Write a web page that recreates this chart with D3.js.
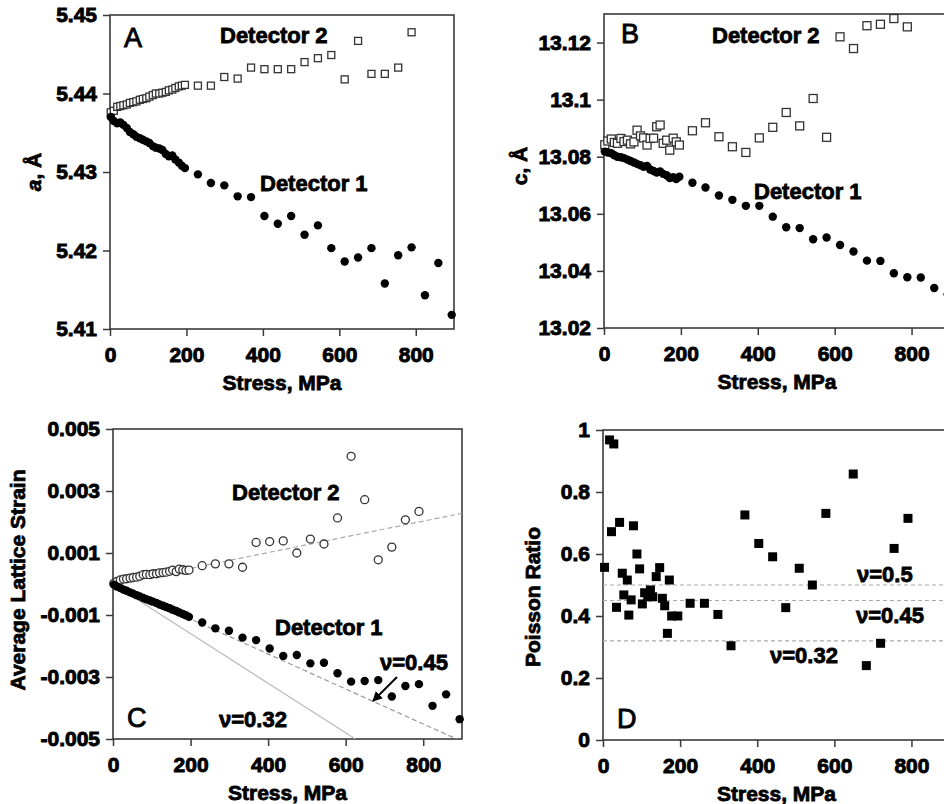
<!DOCTYPE html>
<html>
<head>
<meta charset="utf-8">
<script src="https://cdn.jsdelivr.net/npm/d3@7"></script>
<style>
  body { margin: 0; background: #fff; }
  text { font-family: "Liberation Sans", Arial, sans-serif; fill: #000; }
</style>
</head>
<body>
<svg id="fig" width="944" height="804"></svg>
<script>
////////////////////////////////////////////////////////////////////////
// Data

// applied stress (MPa), shared by panels A, B and C
let stress = [2, 10, 19, 27, 35, 44, 52, 61, 69, 78, 86, 95, 103, 112, 120, 129,
  137, 146, 154, 163, 171, 180, 188, 196, 230, 264, 299, 334, 369, 404, 439, 474,
  509, 544, 579, 614, 649, 684, 719, 754, 789, 824, 859, 894];

// panel A: lattice parameter a (Angstrom)
let aDet1 = [5.4370, 5.4365, 5.4362, 5.4363, 5.4360, 5.4356, 5.4351, 5.4348, 5.4345,
  5.4343, 5.4341, 5.4339, 5.4337, 5.4333, 5.4331, 5.4330, 5.4328, 5.4323, 5.4320,
  5.4321, 5.4316, 5.4312, 5.4308, 5.4305, 5.4297, 5.4286, 5.4283, 5.4269, 5.4268,
  5.4244, 5.4234, 5.4244, 5.4220, 5.4232, 5.4203, 5.4186, 5.4191, 5.4203, 5.4158,
  5.4194, 5.4204, 5.4143, 5.4184, 5.4118];
let aDet2 = [5.4376, 5.4378, 5.4383, 5.4384, 5.4385, 5.4386, 5.4388, 5.4389, 5.4390,
  5.4392, 5.4393, 5.4394, 5.4396, 5.4398, 5.4400, 5.4400, 5.4401, 5.4402, 5.4404,
  5.4405, 5.4407, 5.4409, 5.4410, 5.4411, 5.4410, 5.4410, 5.4421, 5.4419, 5.4433,
  5.4431, 5.4431, 5.4431, 5.4440, 5.4445, 5.4449, 5.4418, 5.4467, 5.4425, 5.4425,
  5.4433, 5.4478, null, null, null];

// panel B: lattice parameter c (Angstrom)
let cDet1 = [13.0818, 13.0815, 13.0812, 13.0805, 13.0800, 13.0798, 13.0795, 13.0790,
  13.0785, 13.0780, 13.0775, 13.0770, 13.0765, 13.0768, 13.0755, 13.0750, 13.0745,
  13.0748, 13.0740, 13.0735, 13.0725, 13.0728, 13.0722, 13.0730, 13.0709, 13.0692,
  13.0664, 13.0649, 13.0628, 13.0628, 13.0590, 13.0553, 13.0550, 13.0511, 13.0517,
  13.0491, 13.0468, 13.0436, 13.0435, 13.0392, 13.0378, 13.0377, 13.0340, 13.0318];
let cDet2 = [13.0842, 13.0855, 13.0862, 13.0850, 13.0847, 13.0864, 13.0853, 13.0858,
  13.0845, 13.0852, 13.0893, 13.0873, 13.0866, 13.0841, 13.0864, 13.0865, 13.0905,
  13.0911, 13.0847, 13.0858, 13.0823, 13.0865, 13.0852, 13.0841, 13.0891, 13.0919,
  13.0870, 13.0835, 13.0815, 13.0866, 13.0903, 13.0955, 13.0908, 13.1004, 13.0868,
  13.1220, 13.1179, 13.1259, 13.1264, 13.1284, 13.1255, null, null, null];

// panel C: average lattice strain
let strainDet1 = [-0.00002, -0.00008, -0.00013, -0.00018, -0.00022, -0.00027, -0.00031,
  -0.00036, -0.00040, -0.00045, -0.00049, -0.00053, -0.00057, -0.00061, -0.00066,
  -0.00070, -0.00074, -0.00078, -0.00083, -0.00087, -0.00092, -0.00097, -0.00101,
  -0.00106, -0.00124, -0.00143, -0.00151, -0.00173, -0.00181, -0.00208, -0.00232,
  -0.00229, -0.00256, -0.00254, -0.00288, -0.00315, -0.00313, -0.00310, -0.00363,
  -0.00329, -0.00323, -0.00393, -0.00356, -0.00436];
let strainDet2 = [0.00002, 0.00008, 0.00013, 0.00016, 0.00017, 0.00019, 0.00021, 0.00022,
  0.00025, 0.00030, 0.00031, 0.00030, 0.00033, 0.00033, 0.00036, 0.00037, 0.00038,
  0.00041, 0.00045, 0.00040, 0.00048, 0.00046, 0.00044, 0.00045, 0.00059, 0.00065,
  0.00065, 0.00054, 0.00134, 0.00137, 0.00139, 0.00100, 0.00145, 0.00129, 0.00213,
  0.00412, 0.00272, 0.00078, 0.00119, 0.00207, 0.00234, null, null, null];

// reference lines in panel C: [stress, strain] end points
let fitLine = [[0, 0], [900, 0.00228]];
let nu45Line = [[0, 0], [900, -0.00508]];
let nu32Line = [[0, 0], [625, -0.005]];

// panel D: Poisson ratio
let stressD = [4, 17, 22, 28, 35, 43, 50, 54, 63, 67, 73, 79, 88, 95, 102, 108, 116, 123,
  129, 138, 147, 154, 160, 167, 172, 178, 194, 226, 263, 298, 332, 368, 404, 440, 474,
  509, 543, 578, 649, 683, 720, 755, 791];
let poisson = [0.557, 0.968, 0.672, 0.955, 0.428, 0.702, 0.538, 0.468, 0.516, 0.403,
  0.452, 0.691, 0.600, 0.552, 0.439, 0.475, 0.462, 0.484, 0.462, 0.527, 0.556, 0.457,
  0.433, 0.344, 0.516, 0.400, 0.400, 0.441, 0.441, 0.405, 0.304, 0.726, 0.634, 0.591,
  0.427, 0.554, 0.500, 0.731, 0.858, 0.240, 0.312, 0.618, 0.715];
let nuLevels = [0.5, 0.45, 0.32];

// tick values
let xTicks = [0, 200, 400, 600, 800];
let aTicks = [5.41, 5.42, 5.43, 5.44, 5.45];
let cTicks = [13.02, 13.04, 13.06, 13.08, 13.1, 13.12];
let strainTicks = [-0.005, -0.003, -0.001, 0.001, 0.003, 0.005];
let poissonTicks = [0, 0.2, 0.4, 0.6, 0.8, 1];

////////////////////////////////////////////////////////////////////////
// Helpers

let svg = d3.select("#fig");
let frameColor = "#3a3a3a";

svg.append("defs").append("marker")
  .attr("id", "arrow")
  .attr("viewBox", "0 0 10 10")
  .attr("refX", 9).attr("refY", 5)
  .attr("markerWidth", 5).attr("markerHeight", 5)
  .attr("orient", "auto")
  .append("path")
  .attr("d", "M0,0 L10,5 L0,10 z")
  .style("fill", "#000");

function pairs(xs, ys) {
  return xs.map((d, i) => [d, ys[i]]).filter(d => d[1] != null);
}

function label(g, txt, x, y, size, weight) {
  return g.append("text")
    .attr("x", x).attr("y", y)
    .style("font-size", size + "px")
    .style("font-weight", weight || "bold")
    .style("stroke", "#000")
    .style("stroke-width", weight === "normal" ? 0.9 : 0.8)
    .text(txt);
}

// Build one panel: frame, axes, titles; returns scales
function makePanel(p) {
  let g = svg.append("g");
  let x = d3.scaleLinear().domain([0, 900]).range([p.left, p.right]);
  let y = d3.scaleLinear().domain(p.yDomain).range([p.bottom, p.top]);

  g.append("clipPath").attr("id", p.id + "-clip")
    .append("rect")
    .attr("x", p.left).attr("y", p.top)
    .attr("width", p.right - p.left).attr("height", p.bottom - p.top);

  let xAxis = g.append("g")
    .attr("transform", `translate(0,${p.bottom})`)
    .call(d3.axisBottom(x).tickValues(xTicks).tickSize(7).tickPadding(11)
      .tickFormat(d3.format("d")));

  let yAxis = g.append("g")
    .attr("transform", `translate(${p.left},0)`)
    .call(d3.axisLeft(y).tickValues(p.yTicks).tickSize(7).tickPadding(6)
      .tickFormat(p.yFormat));

  [xAxis, yAxis].forEach(a => {
    a.select(".domain").remove();
    a.selectAll("line").style("stroke", frameColor).style("stroke-width", 1.5);
    a.selectAll("text")
      .style("font-size", "21px")
      .style("font-weight", "bold")
      .style("font-family", "'Liberation Sans', Arial, sans-serif")
      .style("stroke", "#000")
      .style("stroke-width", 0.9);
  });

  g.append("rect")
    .attr("x", p.left).attr("y", p.top)
    .attr("width", p.right - p.left).attr("height", p.bottom - p.top)
    .style("fill", "none")
    .style("stroke", frameColor)
    .style("stroke-width", 1.6);

  // x title
  label(g, "Stress, MPa", (p.left + p.right) / 2, p.bottom + 61, 21)
    .attr("text-anchor", "middle");

  // y title
  let yt = g.append("text")
    .attr("transform", `translate(${p.yTitleX},${p.yTitleY}) rotate(-90)`)
    .attr("text-anchor", "middle")
    .style("font-size", "21px")
    .style("font-weight", "bold")
    .style("stroke", "#000")
    .style("stroke-width", 0.8);
  p.yTitle(yt);

  return { g: g, x: x, y: y, clip: `url(#${p.id}-clip)` };
}

function squares(panel, data, size, filled) {
  panel.g.append("g")
    .selectAll("rect")
    .data(data)
    .join("rect")
    .attr("x", d => panel.x(d[0]) - size / 2)
    .attr("y", d => panel.y(d[1]) - size / 2)
    .attr("width", size)
    .attr("height", size)
    .style("fill", filled ? "#000" : "#fff")
    .style("stroke", filled ? "none" : "#333")
    .style("stroke-width", 1.3);
}

function circles(panel, data, r, filled) {
  panel.g.append("g")
    .selectAll("circle")
    .data(data)
    .join("circle")
    .attr("cx", d => panel.x(d[0]))
    .attr("cy", d => panel.y(d[1]))
    .attr("r", r)
    .style("fill", filled ? "#000" : "#fff")
    .style("stroke", filled ? "none" : "#333")
    .style("stroke-width", 1.3);
}

let fmt2 = d => String(+d.toFixed(2));

////////////////////////////////////////////////////////////////////////
// Panel A

let pA = makePanel({
  id: "A", left: 110, right: 454, top: 15, bottom: 329,
  yDomain: [5.41, 5.45], yTicks: aTicks, yFormat: fmt2,
  yTitleX: 41, yTitleY: 172,
  yTitle: t => {
    t.append("tspan").style("font-style", "italic").text("a");
    t.append("tspan").text(", Å");
  }
});
squares(pA, pairs(stress, aDet2), 7, false);
circles(pA, pairs(stress, aDet1), 4.2, true);
label(pA.g, "A", 124, 47, 27, "normal");
label(pA.g, "Detector 2", 220, 43, 22);
label(pA.g, "Detector 1", 260, 191, 22);

////////////////////////////////////////////////////////////////////////
// Panel B

let pB = makePanel({
  id: "B", left: 604, right: 950, top: 14, bottom: 328,
  yDomain: [13.02, 13.13], yTicks: cTicks, yFormat: fmt2,
  yTitleX: 527, yTitleY: 166,
  yTitle: t => t.text("c, Å")
});
squares(pB, pairs(stress, cDet2), 8, false);
circles(pB, pairs(stress, cDet1), 4.2, true);
label(pB.g, "B", 621, 43, 27, "normal");
label(pB.g, "Detector 2", 712, 43, 22);
label(pB.g, "Detector 1", 754, 199, 22);

////////////////////////////////////////////////////////////////////////
// Panel C

let pC = makePanel({
  id: "C", left: 113, right: 462, top: 429, bottom: 739,
  yDomain: [-0.005, 0.005], yTicks: strainTicks, yFormat: d => d.toFixed(3),
  yTitleX: 25, yTitleY: 580,
  yTitle: t => t.text("Average Lattice Strain")
});

let line = d3.line().x(d => pC.x(d[0])).y(d => pC.y(d[1]));
let refLines = pC.g.append("g").attr("clip-path", pC.clip);
refLines.append("path").attr("d", line(nu32Line))
  .style("fill", "none").style("stroke", "#bbb").style("stroke-width", 1.2);
refLines.append("path").attr("d", line(nu45Line))
  .style("fill", "none").style("stroke", "#999").style("stroke-width", 1.2)
  .style("stroke-dasharray", "5,3");
refLines.append("path").attr("d", line(fitLine))
  .style("fill", "none").style("stroke", "#aaa").style("stroke-width", 1.2)
  .style("stroke-dasharray", "5,3");

circles(pC, pairs(stress, strainDet2), 4, false);
circles(pC, pairs(stress, strainDet1), 4.2, true);

label(pC.g, "C", 127, 727, 27, "normal");
label(pC.g, "Detector 2", 232, 500, 22);
label(pC.g, "Detector 1", 275, 635, 22);
label(pC.g, "ν=0.45", 380, 670, 22);
label(pC.g, "ν=0.32", 219, 727, 22);
pC.g.append("line")
  .attr("x1", 397).attr("y1", 677)
  .attr("x2", 373).attr("y2", 701)
  .style("stroke", "#000").style("stroke-width", 2)
  .attr("marker-end", "url(#arrow)");

////////////////////////////////////////////////////////////////////////
// Panel D

let pD = makePanel({
  id: "D", left: 603, right: 950, top: 430, bottom: 740,
  yDomain: [0, 1], yTicks: poissonTicks, yFormat: d => String(d),
  yTitleX: 540, yTitleY: 597,
  yTitle: t => t.text("Poisson Ratio")
});

pD.g.append("g")
  .selectAll("line")
  .data(nuLevels)
  .join("line")
  .attr("x1", pD.x(0)).attr("x2", pD.x(900))
  .attr("y1", d => pD.y(d)).attr("y2", d => pD.y(d))
  .style("stroke", "#aaa").style("stroke-width", 1.2)
  .style("stroke-dasharray", "4,3");

squares(pD, pairs(stressD, poisson), 9, true);

label(pD.g, "D", 617, 728, 27, "normal");
label(pD.g, "ν=0.5", 857, 582, 22);
label(pD.g, "ν=0.45", 856, 623, 22);
label(pD.g, "ν=0.32", 770, 663, 22);
</script>
</body>
</html>
